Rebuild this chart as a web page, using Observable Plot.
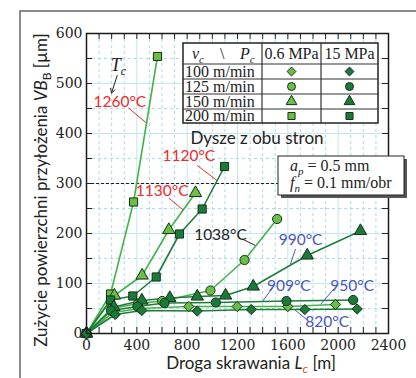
<!DOCTYPE html>
<html><head><meta charset="utf-8">
<script src="https://cdn.jsdelivr.net/npm/d3@7"></script>
<script src="https://cdn.jsdelivr.net/npm/@observablehq/plot@0.6"></script>
<style>body{margin:0;background:#fff} #chart{width:416px;height:378px}</style>
</head><body><div id="chart"></div>
<script>
// ---- data ----
const speeds = ["100 m/min", "125 m/min", "150 m/min", "200 m/min"];
const pressures = ["0.6 MPa", "15 MPa"];
const xTickLabels = [0, 400, 800, 1200, 1600, 2000, 2400];
const yTickLabels = [0, 100, 200, 300, 400, 500, 600];

const x200_06 = [0, 191, 374, 564];
const y200_06 = [0, 79, 263, 554];
const x200_15 = [0, 191, 368, 554, 739, 919, 1097];
const y200_15 = [0, 67, 75, 113, 199, 249, 334];
const x150_06 = [0, 222, 442, 654, 866];
const y150_06 = [0, 76, 116, 207, 281];
const x150_15 = [0, 217, 440, 662, 880, 1105, 1325, 1754, 2177];
const y150_15 = [0, 53, 66, 71, 74, 76, 94, 156, 205];
const x125_06 = [0, 200, 410, 601, 985, 1256, 1515];
const y125_06 = [0, 50, 60, 65, 86, 147, 229];
const x125_15 = [0, 195, 405, 620, 1028, 1589, 2119];
const y125_15 = [0, 46, 54, 61, 62, 65, 67];
const x100_06 = [0, 210, 420, 813, 1197, 1600, 1979];
const y100_06 = [0, 42, 50, 54, 54, 54, 58];
const x100_15 = [0, 228, 440, 880, 1309, 1735, 2151];
const y100_15 = [0, 38, 46, 45, 48, 48, 49];

const tempText = ["1260°C", "1120°C", "1130°C", "1038°C", "990°C", "909°C", "950°C", "820°C"];
const tempX = [265, 813, 601, 1065, 1701, 1608, 2111, 1913];
const tempY = [463, 354, 285, 196, 186, 94, 94, 23];
const tempKind = ["red", "red", "red", "black", "blue", "blue", "blue", "blue"];
const leadX1 = [334, 880, 654, 1237, 1661, 1476, 1965, 1754];
const leadY1 = [451, 336, 271, 189, 169, 91, 89, 27];
const leadX2 = [482, 1038, 773, 1343, 1621, 1396, 1860, 1648];
const leadY2 = [420, 306, 246, 176, 139, 63, 58, 49];

// ---- build tables ----
const seriesList = [
  {speed: speeds[3], pressure: pressures[0], x: x200_06, y: y200_06},
  {speed: speeds[3], pressure: pressures[1], x: x200_15, y: y200_15},
  {speed: speeds[2], pressure: pressures[0], x: x150_06, y: y150_06},
  {speed: speeds[2], pressure: pressures[1], x: x150_15, y: y150_15},
  {speed: speeds[1], pressure: pressures[0], x: x125_06, y: y125_06},
  {speed: speeds[1], pressure: pressures[1], x: x125_15, y: y125_15},
  {speed: speeds[0], pressure: pressures[0], x: x100_06, y: y100_06},
  {speed: speeds[0], pressure: pressures[1], x: x100_15, y: y100_15}
];
const rows = [];
seriesList.forEach(s => s.x.forEach((x, i) => rows.push({x, y: s.y[i], speed: s.speed, pressure: s.pressure, key: s.speed + s.pressure})));
const light = rows.filter(d => d.pressure === pressures[0]);
const dark = rows.filter(d => d.pressure === pressures[1]);
const labels = tempText.map((t, i) => ({text: t, x: tempX[i], y: tempY[i], kind: tempKind[i], x1: leadX1[i], y1: leadY1[i], x2: leadX2[i], y2: leadY2[i]}));
const kindColor = {red: "#ee2a2a", black: "#222", blue: "#4b56b8"};

const minorX = d3.range(100, 2400, 100).filter(v => v % 400 !== 0);
const majorX = d3.range(400, 2400, 400);
const minorY = d3.range(50, 600, 50).filter(v => v % 100 !== 0);
const majorY = d3.range(100, 600, 100);
const tickXs = d3.range(100, 2400, 100);
const tickYs = d3.range(50, 600, 50);

const symbolScale = {domain: speeds, range: ["diamond2", "circle", "triangle", "square"]};
const LIGHT_LINE = "#45b24a", LIGHT_FILL = "#6cbf46", DARK_LINE = "#1f7d38", DARK_FILL = "#1c7a39", MSTROKE = "#13301a";

const plot = Plot.plot({
  width: 416, height: 378,
  marginLeft: 86, marginRight: 28, marginTop: 33, marginBottom: 45,
  x: {domain: [0, 2400]},
  y: {domain: [0, 600]},
  symbol: symbolScale,
  style: {fontFamily: "DejaVu Serif", fontSize: "14px", background: "white", color: "#222", overflow: "visible"},
  marks: [
    Plot.ruleX(minorX, {stroke: "#a6dbea", strokeDasharray: "3,3"}),
    Plot.ruleX(majorX, {stroke: "#bfe6f1"}),
    Plot.ruleY(minorY, {stroke: "#a6dbea", strokeDasharray: "3,3"}),
    Plot.ruleY(majorY, {stroke: "#bfe6f1"}),
    Plot.ruleY([300], {x1: 0, x2: 1525, stroke: "#222", strokeDasharray: "3,2"}),
    Plot.ruleX(tickXs, {y1: 0, y2: 12, stroke: "#222"}),
    Plot.ruleX(tickXs, {y1: 588, y2: 600, stroke: "#222"}),
    Plot.ruleY(tickYs, {x1: 0, x2: 48, stroke: "#222"}),
    Plot.ruleY(tickYs, {x1: 2352, x2: 2400, stroke: "#222"}),
    Plot.axisX({ticks: xTickLabels, tickSize: 0, tickPadding: 7, label: null, tickFormat: d => String(d)}),
    Plot.axisY({ticks: yTickLabels, tickSize: 0, tickPadding: 4, label: null, tickFormat: d => String(d)}),
    Plot.link(labels, {x1: "x1", y1: "y1", x2: "x2", y2: "y2", stroke: d => kindColor[d.kind], strokeWidth: 1}),
    Plot.line(light, {x: "x", y: "y", z: "key", stroke: LIGHT_LINE, strokeWidth: 1.6}),
    Plot.line(dark, {x: "x", y: "y", z: "key", stroke: DARK_LINE, strokeWidth: 1.6}),
    Plot.dot(light, {x: "x", y: "y", symbol: "speed", fill: LIGHT_FILL, stroke: MSTROKE, strokeWidth: 1, r: 4.6}),
    Plot.dot(dark, {x: "x", y: "y", symbol: "speed", fill: DARK_FILL, stroke: MSTROKE, strokeWidth: 1, r: 4.6}),
    Plot.text(labels, {x: "x", y: "y", text: "text", fill: d => kindColor[d.kind], fontFamily: "Lato", fontSize: 15.5}),
    Plot.arrow([{x1: 244, y1: 516, x2: 199, y2: 481}], {x1: "x1", y1: "y1", x2: "x2", y2: "y2", stroke: "#222", strokeWidth: 1, headLength: 7}),
    Plot.frame({stroke: "#1a1a1a", strokeWidth: 1.5})
  ]
});
document.getElementById("chart").appendChild(plot);

const svg = d3.select(plot);
const sx = plot.scale("x"), sy = plot.scale("y");
const X = v => sx.apply(v), Y = v => sy.apply(v);

// outer figure border
svg.insert("path", ":first-child").attr("d", "M20,378V11H416").attr("fill", "none").attr("stroke", "#666").attr("stroke-width", 1.5);

// T_c label
const tc = svg.append("text").attr("x", X(257)).attr("y", Y(536) + 6).attr("text-anchor", "middle")
  .attr("font-family", "Liberation Serif").attr("font-size", 18).attr("fill", "#222");
tc.append("tspan").attr("font-style", "italic").text("T");
tc.append("tspan").attr("font-style", "italic").attr("font-size", 12).attr("dy", 4).text("c");

// axis titles
const yt = svg.append("text").attr("transform", "translate(47,190) rotate(-90)").attr("text-anchor", "middle")
  .attr("font-family", "Lato").attr("font-size", 17).attr("fill", "#222");
yt.append("tspan").text("Zużycie powierzchni przyłożenia ");
yt.append("tspan").attr("font-style", "italic").text("VB");
yt.append("tspan").attr("font-size", 12).attr("dy", 4).text("B");
yt.append("tspan").attr("dy", -4).text(" [µm]");

const xt = svg.append("text").attr("x", 251).attr("y", 369).attr("text-anchor", "middle")
  .attr("font-family", "Lato").attr("font-size", 17).attr("fill", "#222");
xt.append("tspan").text("Droga skrawania ");
xt.append("tspan").attr("font-style", "italic").text("L");
xt.append("tspan").attr("font-style", "italic").attr("font-size", 12).attr("dy", 4).attr("fill", "#b5651d").text("c");
xt.append("tspan").attr("dy", -4).text(" [m]");

// legend table
const tbl = svg.append("g").attr("text-anchor", "start");
const tx = [183, 262, 321, 378], ty = [43, 64, 79, 94, 109, 123];
tbl.append("rect").attr("x", tx[0]).attr("y", ty[0]).attr("width", tx[3] - tx[0]).attr("height", ty[5] - ty[0])
  .attr("fill", "white").attr("stroke", "#222").attr("stroke-width", 1.5);
ty.slice(1, 5).forEach(v => tbl.append("line").attr("x1", tx[0]).attr("x2", tx[3]).attr("y1", v).attr("y2", v).attr("stroke", "#333").attr("stroke-width", 1.2));
tx.slice(1, 3).forEach(v => tbl.append("line").attr("x1", v).attr("x2", v).attr("y1", ty[0]).attr("y2", ty[5]).attr("stroke", "#333").attr("stroke-width", 1.2));
const hdr = tbl.append("text").attr("y", 59).attr("text-anchor", "start").attr("font-family", "Liberation Serif").attr("font-size", 16).attr("fill", "#222");
hdr.append("tspan").attr("x", 192).attr("font-style", "italic").text("v");
hdr.append("tspan").attr("font-style", "italic").attr("font-size", 11).attr("dy", 4).text("c");
hdr.append("tspan").attr("x", 220).attr("dy", -4).text("\\");
hdr.append("tspan").attr("x", 240).attr("font-style", "italic").text("P");
hdr.append("tspan").attr("font-style", "italic").attr("font-size", 11).attr("dy", 4).text("c");
pressures.forEach((p, j) => tbl.append("text").attr("x", (tx[j + 1] + tx[j + 2]) / 2).attr("y", 59).attr("text-anchor", "middle")
  .attr("font-family", "Liberation Serif").attr("font-size", 16).attr("fill", "#222").text(p));
const symMap = {"100 m/min": d3.symbolDiamond2, "125 m/min": d3.symbolCircle, "150 m/min": d3.symbolTriangle, "200 m/min": d3.symbolSquare};
speeds.forEach((s, i) => {
  const cy = (ty[i + 1] + ty[i + 2]) / 2;
  tbl.append("text").attr("x", 185).attr("y", cy + 5).attr("text-anchor", "start").attr("font-family", "Liberation Serif").attr("font-size", 16).attr("fill", "#222").text(s);
  pressures.forEach((p, j) => {
    const cx = (tx[j + 1] + tx[j + 2]) / 2;
    tbl.append("path").attr("d", d3.symbol(symMap[s], Math.PI * 16)()).attr("transform", `translate(${cx},${cy})`)
      .attr("fill", j === 0 ? LIGHT_FILL : DARK_FILL).attr("stroke", MSTROKE).attr("stroke-width", 1);
  });
});

// nozzle note
svg.append("text").attr("x", 257).attr("y", 144).attr("text-anchor", "middle").attr("font-family", "Lato").attr("font-size", 17).attr("fill", "#222").text("Dysze z obu stron");

// parameter box
const pb = svg.append("g").attr("text-anchor", "start");
pb.append("rect").attr("x", 281).attr("y", 159).attr("width", 126).attr("height", 39).attr("fill", "#555");
pb.append("rect").attr("x", 278).attr("y", 156).attr("width", 126).attr("height", 39).attr("fill", "white").attr("stroke", "#222").attr("stroke-width", 1);
const l1 = pb.append("text").attr("x", 290).attr("y", 171).attr("text-anchor", "start").attr("font-family", "Liberation Serif").attr("font-size", 16).attr("fill", "#222");
l1.append("tspan").attr("font-style", "italic").text("a");
l1.append("tspan").attr("font-style", "italic").attr("font-size", 11).attr("dy", 4).text("p");
l1.append("tspan").attr("dy", -4).text(" = 0.5 mm");
const l2 = pb.append("text").attr("x", 290).attr("y", 188).attr("text-anchor", "start").attr("font-family", "Liberation Serif").attr("font-size", 16).attr("fill", "#222");
l2.append("tspan").attr("font-style", "italic").text("f");
l2.append("tspan").attr("font-style", "italic").attr("font-size", 11).attr("dy", 4).text("n");
l2.append("tspan").attr("dy", -4).text(" = 0.1 mm/obr");
</script>
</body></html>
